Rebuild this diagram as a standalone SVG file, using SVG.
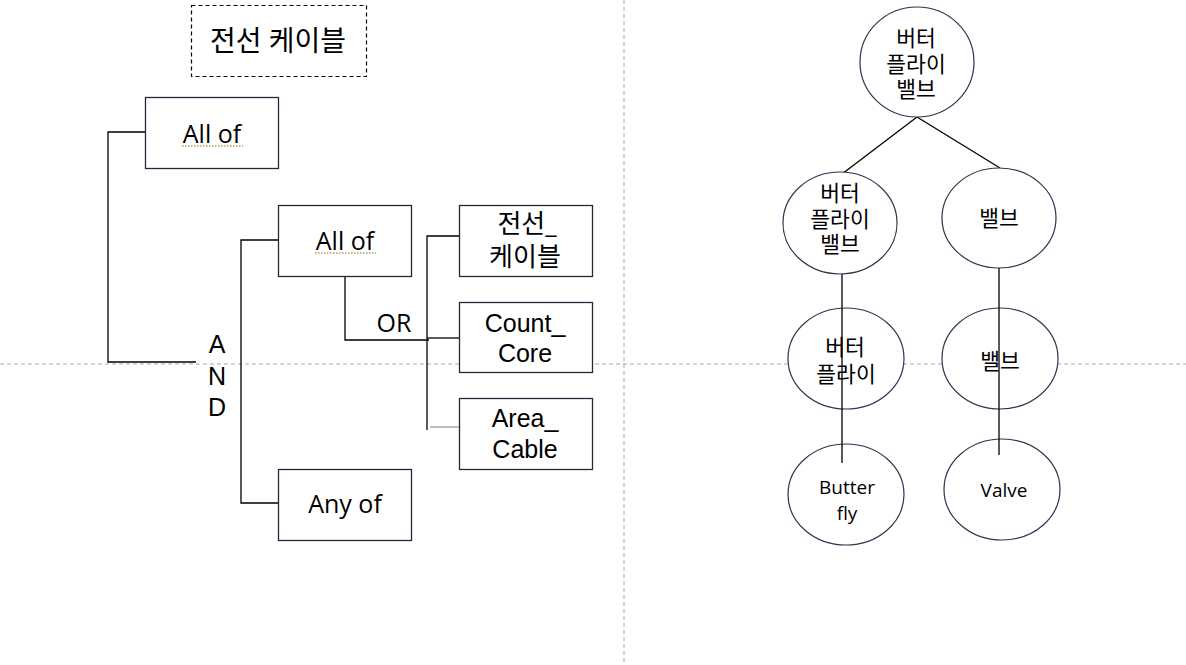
<svg xmlns="http://www.w3.org/2000/svg" width="1186" height="665" viewBox="0 0 1186 665">
<style>
.bg{fill:#ffffff}
.guide{stroke:#a8a8a8;stroke-width:1;stroke-dasharray:4 3;fill:none}
.box{fill:#ffffff;stroke:#1f2a3a;stroke-width:1.3}
.title{fill:#ffffff;stroke:#000;stroke-width:1.2;stroke-dasharray:4 3}
.ell{fill:#ffffff;stroke:#2b3550;stroke-width:1.2}
.wire{stroke:#000;stroke-width:1.3;fill:none}
.wire2{stroke:#7a7a7a;stroke-width:1.2;fill:none}
.squig{stroke:#b59a5c;stroke-width:1.6;stroke-dasharray:1.5 1.5;fill:none}
text{font-family:"Open Sans","Noto Sans CJK KR",sans-serif;fill:#000;text-anchor:middle}
.t25{font-size:25px}
.n25{font-family:"Liberation Sans","Noto Sans CJK KR",sans-serif;font-size:25px}
.k26{font-size:26px}
.k28{font-size:28px}
.k21{font-family:"Liberation Sans","Noto Sans CJK KR",sans-serif;font-size:21.5px}
.l19{font-size:19px}
</style>
<rect class="bg" x="0" y="0" width="1186" height="665"/>
<g id="guides">
<line class="guide" x1="624" y1="0" x2="624" y2="665"/>
<line class="guide" x1="0" y1="364" x2="1186" y2="364"/>
</g>
<g id="connectors">
<polyline class="wire" points="145,132 108,132 108,362 196,362"/>
<polyline class="wire" points="278,240 241,240 241,503 278,503"/>
<polyline class="wire" points="345,276 345,340 429,340"/>
<polyline class="wire" points="459,236 427,236 427,430"/>
<line class="wire" x1="427" y1="338" x2="459" y2="338"/>
<line class="wire2" x1="430" y1="427" x2="463" y2="427"/>
<line class="wire" x1="917" y1="117" x2="842" y2="174"/>
<line class="wire" x1="917" y1="117" x2="1000" y2="168"/>
</g>
<g id="title">
<rect class="title" x="191.5" y="5.5" width="175" height="71"/>
<text class="k28" x="278" y="51">전선 케이블</text>
</g>
<g id="allof1">
<rect class="box" x="145.5" y="97.5" width="133" height="71"/>
<text class="t25" x="212" y="143">All of</text>
<line class="squig" x1="182" y1="146" x2="243" y2="146"/>
</g>
<g id="allof2">
<rect class="box" x="278.5" y="205.5" width="133" height="71"/>
<text class="t25" x="345" y="250">All of</text>
<line class="squig" x1="315" y1="253" x2="376" y2="253"/>
</g>
<g id="anyof">
<rect class="box" x="278.5" y="469.5" width="133" height="71"/>
<text class="t25" x="345" y="513">Any of</text>
</g>
<g id="and-label">
<text class="n25" x="217" y="353">A</text>
<text class="n25" x="217" y="385">N</text>
<text class="n25" x="217" y="416">D</text>
</g>
<g id="or-label">
<text class="t25" x="394" y="332">OR</text>
</g>
<g id="wire-cable">
<rect class="box" x="459.5" y="205.5" width="133" height="71"/>
<text class="k26" x="527" y="233">전선_</text>
<text class="k26" x="525" y="266">케이블</text>
</g>
<g id="count-core">
<rect class="box" x="459.5" y="302.5" width="133" height="70"/>
<text class="n25" x="525" y="332">Count_</text>
<text class="n25" x="525" y="362">Core</text>
</g>
<g id="area-cable">
<rect class="box" x="459.5" y="398.5" width="133" height="71"/>
<text class="n25" x="525" y="427">Area_</text>
<text class="n25" x="525" y="458">Cable</text>
</g>
<g id="n-top">
<ellipse class="ell" cx="917" cy="62" rx="57" ry="55"/>
<text class="k21" x="916" y="46">버터</text>
<text class="k21" x="916" y="72">플라이</text>
<text class="k21" x="916" y="97">밸브</text>
</g>
<g id="n-left">
<ellipse class="ell" cx="840" cy="223" rx="57" ry="51"/>
<text class="k21" x="840" y="201">버터</text>
<text class="k21" x="840" y="227">플라이</text>
<text class="k21" x="840" y="252">밸브</text>
</g>
<g id="n-right">
<ellipse class="ell" cx="999" cy="218" rx="57" ry="50"/>
<text class="k21" x="999" y="226">밸브</text>
</g>
<g id="n-butterfly-kr">
<ellipse class="ell" cx="846" cy="358.5" rx="58" ry="50.5"/>
<text class="k21" x="845" y="355">버터</text>
<text class="k21" x="846" y="382">플라이</text>
</g>
<g id="n-valve-kr">
<ellipse class="ell" cx="1000" cy="358.5" rx="58" ry="50.5"/>
<text class="k21" x="1000" y="369">밸브</text>
</g>
<g id="n-butterfly">
<ellipse class="ell" cx="846" cy="494.5" rx="58" ry="50.5"/>
<text class="l19" x="847" y="494">Butter</text>
<text class="l19" x="847" y="520">fly</text>
</g>
<g id="n-valve">
<ellipse class="ell" cx="1002" cy="489.5" rx="58" ry="50.5"/>
<text class="l19" x="1004" y="497">Valve</text>
</g>
<g id="tree-lines">
<line class="wire" x1="842" y1="274" x2="842" y2="463"/>
<line class="wire" x1="999" y1="268" x2="999" y2="455"/>
</g>
</svg>
